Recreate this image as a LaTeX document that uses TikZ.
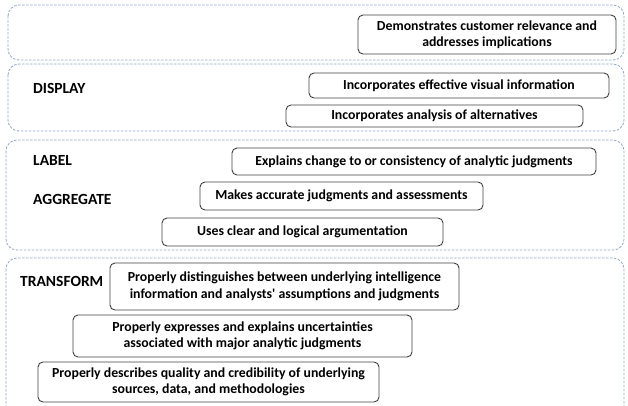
\documentclass[tikz,border=0pt]{standalone}
\usepackage{fontspec}
\setmainfont{Carlito}
\usepackage{xcolor}
\definecolor{dashblue}{HTML}{8FA8C6}
\definecolor{boxgray}{HTML}{404040}

\begin{document}
\begin{tikzpicture}[x=1pt, y=-1pt,
  region/.style={draw=dashblue, dashed, dash pattern=on 2.5pt off 1.5pt, line width=0.8pt, rounded corners=11pt},
  box/.style={draw=boxgray, line width=0.9pt, rounded corners=5pt, align=center, inner sep=2pt, font=\fontsize{13.8}{16.5}\selectfont\bfseries},
  tag/.style={anchor=west, inner sep=0pt, font=\fontsize{15.5}{16}\selectfont\bfseries}]
  \clip (0,0) rectangle (628,405);
  % dashed bands
  \draw[region] (8,5) rectangle (624,60);
  \draw[region] (8,64) rectangle (624,131);
  \draw[region] (6,140) rectangle (624,250);
  \draw[region] (6,258) rectangle (624,440);
  % level names
  \node[tag] (display) at (33,88) {DISPLAY};
  \node[tag] (label) at (33,160) {LABEL};
  \node[tag] (aggregate) at (33,199) {AGGREGATE};
  \node[tag] (transform) at (20,281) {TRANSFORM};
  % criteria
  \node[box, minimum width=258pt, minimum height=39pt] (relevance) at (487,34.5) {Demonstrates customer relevance and\\addresses implications};
  \node[box, minimum width=300pt, minimum height=25pt] (visual) at (459,85.5) {Incorporates effective visual information};
  \node[box, minimum width=297pt, minimum height=22pt] (alternatives) at (434.5,116) {Incorporates analysis of alternatives};
  \node[box, minimum width=364pt, minimum height=27pt] (change) at (414,161.5) {Explains change to or consistency of analytic judgments};
  \node[box, minimum width=283pt, minimum height=28pt] (accurate) at (341.5,196) {Makes accurate judgments and assessments};
  \node[box, minimum width=281pt, minimum height=28pt] (logical) at (302.5,232) {Uses clear and logical argumentation};
  \node[box, minimum width=349pt, minimum height=47pt] (distinguish) at (284.5,286.5) {Properly distinguishes between underlying intelligence\\information and analysts\textquotesingle\ assumptions and\ judgments};
  \node[box, minimum width=339pt, minimum height=42pt] (uncertain) at (242.5,336) {Properly expresses and explains uncertainties\\associated with major analytic judgments};
  \node[box, minimum width=341pt, minimum height=40pt] (sources) at (208.5,382) {Properly describes quality and credibility of underlying\\sources, data, and methodologies};
\end{tikzpicture}
\end{document}
